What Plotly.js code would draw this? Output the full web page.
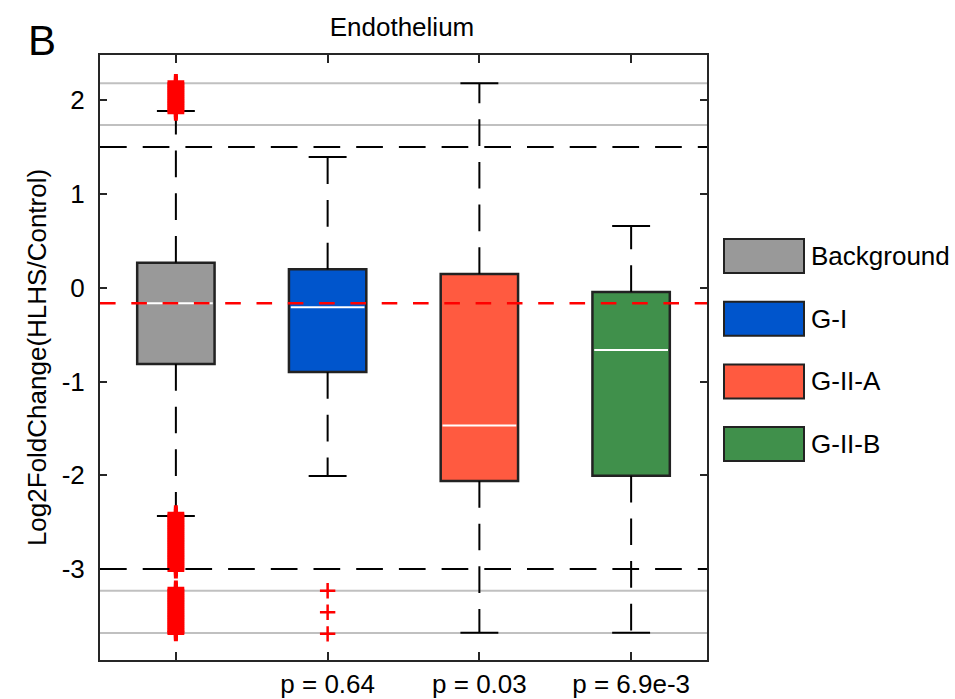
<!DOCTYPE html>
<html>
<head>
<meta charset="utf-8">
<script src="https://cdn.plot.ly/plotly-3.0.1.min.js"></script>
<style>html,body{margin:0;padding:0;background:#fff;}#chart{width:955px;height:699px;}</style>
</head>
<body>
<div id="chart"></div>
<script>
// ---- data ----
const categories = ['Background', 'G-I', 'G-II-A', 'G-II-B'];
const xPos = [1, 2, 3, 4];
const tickLabels = ['', 'p = 0.64', 'p = 0.03', 'p = 6.9e-3'];
const q1 = [-0.813, -0.899, -2.06, -2.004];
const medians = [-0.166, -0.209, -1.47, -0.664];
const q3 = [0.267, 0.196, 0.146, -0.046];
const lowerWhisker = [-2.434, -2.007, -3.678, -3.678];
const upperWhisker = [1.883, 1.393, 2.179, 0.658];
const boxColors = ['#999999', '#0055cc', '#ff5a40', '#40904b'];
const outliersBackground = [2.19, 2.17, 2.15, 2.13, 2.11, 2.09, 2.07, 2.05, 2.03, 2.01, 1.99, 1.97, 1.95, 1.93, 1.91, 1.89, 1.87,
  -2.41, -2.43, -2.45, -2.47, -2.49, -2.51, -2.53, -2.55, -2.57, -2.59, -2.61, -2.63, -2.65, -2.67, -2.69, -2.71,
  -2.73, -2.75, -2.77, -2.79, -2.81, -2.83, -2.85, -2.87, -2.89, -2.91, -2.93, -2.95, -2.97, -2.99, -3.01,
  -3.21, -3.23, -3.25, -3.27, -3.29, -3.31, -3.33, -3.35, -3.37, -3.39, -3.41, -3.43, -3.45, -3.47, -3.49,
  -3.51, -3.53, -3.55, -3.57, -3.59, -3.61, -3.63, -3.65, -3.67, -3.68];
const outliersGI = [-3.23, -3.46, -3.69];
const grayLines = [2.18, 1.735, -3.23, -3.68];
const blackDashLines = [1.5, -3.0];
const redDashLines = [-0.166];
const yTicks = [-3, -2, -1, 0, 1, 2];
const yTickText = ['-3', '-2', '-1', '0', '1', '2'];

// ---- styles ----
const FONT = 'Liberation Sans, Arial, Helvetica, sans-serif';
const AX = '#262626';
const BOXW = 0.51, CAPW = 0.25;
const DASH = '26.7px,16px';
const FS = 26;

const traces = [];
// boxes
traces.push({
  type: 'bar', x: xPos, base: q1, y: q3.map((v, i) => v - q1[i]), width: BOXW,
  marker: {color: boxColors, line: {color: '#222222', width: 2.5}},
  hoverinfo: 'skip', showlegend: false
});
// whiskers (dashed), caps (solid), medians (white)
xPos.forEach((x, i) => {
  traces.push({type: 'scatter', mode: 'lines', x: [x, x], y: [q3[i], upperWhisker[i]],
    line: {color: '#000', width: 2, dash: DASH}, hoverinfo: 'skip', showlegend: false});
  traces.push({type: 'scatter', mode: 'lines', x: [x, x], y: [q1[i], lowerWhisker[i]],
    line: {color: '#000', width: 2, dash: DASH}, hoverinfo: 'skip', showlegend: false});
  traces.push({type: 'scatter', mode: 'lines', x: [x - CAPW / 2, x + CAPW / 2, null, x - CAPW / 2, x + CAPW / 2],
    y: [upperWhisker[i], upperWhisker[i], null, lowerWhisker[i], lowerWhisker[i]],
    line: {color: '#000', width: 2}, hoverinfo: 'skip', showlegend: false});
  traces.push({type: 'scatter', mode: 'lines', x: [x - BOXW / 2 + 0.012, x + BOXW / 2 - 0.012], y: [medians[i], medians[i]],
    line: {color: '#fff', width: 2}, hoverinfo: 'skip', showlegend: false});
});
// outliers
traces.push({type: 'scatter', mode: 'markers', x: outliersBackground.map(() => xPos[0]), y: outliersBackground,
  marker: {symbol: 'cross-thin', size: 12, color: '#ff0000', line: {color: '#ff0000', width: 4}},
  hoverinfo: 'skip', showlegend: false});
traces.push({type: 'scatter', mode: 'markers', x: outliersGI.map(() => xPos[1]), y: outliersGI,
  marker: {symbol: 'cross-thin', size: 11, color: '#ff0000', line: {color: '#ff0000', width: 2.5}},
  hoverinfo: 'skip', showlegend: false});

// reference lines
const shapes = [];
grayLines.forEach(v => shapes.push({type: 'line', xref: 'paper', x0: 0, x1: 1, yref: 'y', y0: v, y1: v,
  line: {color: '#c0c0c0', width: 2}, layer: 'below'}));
blackDashLines.forEach(v => shapes.push({type: 'line', xref: 'paper', x0: 0, x1: 1, yref: 'y', y0: v, y1: v,
  line: {color: '#000', width: 2, dash: DASH}, layer: 'above'}));
redDashLines.forEach(v => shapes.push({type: 'line', xref: 'paper', x0: 0, x1: 1, yref: 'y', y0: v, y1: v,
  line: {color: '#ff0000', width: 2.5, dash: '15.6px,15.7px'}, layer: 'above'}));

// manual legend
const L = 100, T = 55, PW = 607, PH = 605;
const px = p => (p - L) / PW;
const py = p => (T + PH - p) / PH;
const annotations = [];
categories.forEach((c, i) => {
  const top = 239 + 62.7 * i;
  shapes.push({type: 'rect', xref: 'paper', yref: 'paper', x0: px(724), x1: px(804), y0: py(top + 34), y1: py(top),
    fillcolor: boxColors[i], line: {color: '#222222', width: 2}});
  annotations.push({xref: 'paper', yref: 'paper', x: px(809), y: py(top + 17), xanchor: 'left', yanchor: 'middle',
    text: c, showarrow: false, font: {family: FONT, size: FS, color: '#000'}});
});
annotations.push({xref: 'paper', yref: 'paper', x: px(42), y: py(40), xanchor: 'center', yanchor: 'middle',
  text: 'B', showarrow: false, font: {family: FONT, size: 42, color: '#000'}});

const layout = {
  width: 955, height: 699,
  margin: {l: 100, r: 248, t: 55, b: 39, pad: 0},
  paper_bgcolor: '#fff', plot_bgcolor: '#fff',
  font: {family: FONT, size: FS, color: AX},
  title: {text: 'Endothelium', x: px(402), xref: 'paper', xanchor: 'center', y: 1 - 27 / 699, yref: 'container', yanchor: 'middle',
    font: {family: FONT, size: FS, color: '#000'}},
  showlegend: false,
  bargap: 0,
  xaxis: {range: [0.5, 4.5], tickvals: xPos, ticktext: tickLabels, ticks: 'inside', ticklen: 8, tickwidth: 2,
    tickcolor: AX, showline: true, linecolor: AX, linewidth: 2, mirror: 'ticks', showgrid: false, zeroline: false,
    tickfont: {family: FONT, size: FS, color: '#000'}, fixedrange: true},
  yaxis: {range: [-3.969, 2.481], tickvals: yTicks, ticktext: yTickText, ticks: 'inside', ticklen: 7, tickwidth: 2,
    tickcolor: AX, showline: true, linecolor: AX, linewidth: 2, mirror: 'ticks', showgrid: false, zeroline: false,
    tickfont: {family: FONT, size: FS, color: '#000'}, ticklabelstandoff: 8,
    title: {text: 'Log2FoldChange(HLHS/Control)', standoff: 8, font: {family: FONT, size: FS, color: '#000'}},
    fixedrange: true},
  shapes: shapes,
  annotations: annotations
};

Plotly.newPlot('chart', traces, layout, {displayModeBar: false, staticPlot: true});
</script>
</body>
</html>
